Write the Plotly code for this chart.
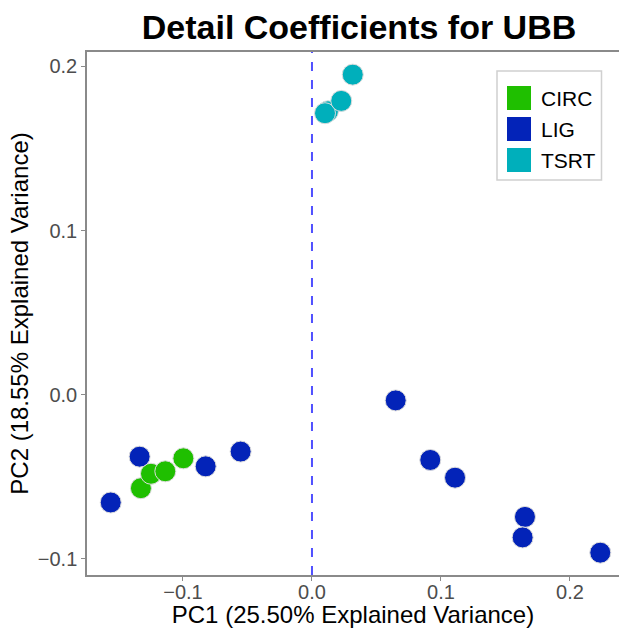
import plotly.graph_objects as go

# ---- data ----
groups = ["CIRC", "LIG", "TSRT"]
colors = {"CIRC": "#1fbf00", "LIG": "#0323b8", "TSRT": "#00afbb"}

circ_x = [-0.1326, -0.1248, -0.1137, -0.0997]
circ_y = [-0.0570, -0.0482, -0.0467, -0.0388]

lig_x = [-0.1560, -0.1336, -0.0824, -0.0553, 0.0649, 0.0917, 0.1109, 0.1651, 0.1633, 0.2235]
lig_y = [-0.0657, -0.0378, -0.0437, -0.0347, -0.0035, -0.0398, -0.0506, -0.0745, -0.0870, -0.0963]

tsrt_x = [0.0124, 0.0101, 0.0227, 0.0316]
tsrt_y = [0.1727, 0.1715, 0.1790, 0.1950]

series = {"CIRC": (circ_x, circ_y), "LIG": (lig_x, lig_y), "TSRT": (tsrt_x, tsrt_y)}

x_ticks = [-0.1, 0.0, 0.1, 0.2]
x_ticklabels = ["\u22120.1", "0.0", "0.1", "0.2"]
y_ticks = [-0.1, 0.0, 0.1, 0.2]
y_ticklabels = ["\u22120.1", "0.0", "0.1", "0.2"]

title = "Detail Coefficients for UBB"
x_title = "PC1 (25.50% Explained Variance)"
y_title = "PC2 (18.55% Explained Variance)"

FONT = "Liberation Sans, Arial, sans-serif"

# ---- layout geometry ----
W, H = 619, 628
ML, MR, MT, MB = 87, 0, 52, 53
PW, PH = W - ML - MR, H - MT - MB

def px_x(p):
    return (p - ML) / PW

def px_y(p):
    return (H - MB - p) / PH

fig = go.Figure()

# dashed vertical reference line at x = 0
fig.add_shape(type="line", xref="x", yref="paper", x0=0, x1=0, y0=0, y1=1,
              line=dict(color="#5050ff", width=2, dash="dash"), layer="below")

for g in groups:
    xs, ys = series[g]
    fig.add_trace(go.Scatter(
        x=xs, y=ys, mode="markers", name=g, showlegend=False,
        marker=dict(size=21, color=colors[g], line=dict(color="#dcdcdc", width=1)),
    ))

# manual legend (large square keys)
fig.add_shape(type="rect", xref="paper", yref="paper",
              x0=px_x(497), x1=px_x(601.5), y0=px_y(180), y1=px_y(71),
              line=dict(color="#d0d0d0", width=1.5), fillcolor="white")
for i, g in enumerate(groups):
    top = 86 + i * 31
    fig.add_shape(type="rect", xref="paper", yref="paper",
                  x0=px_x(507), x1=px_x(531), y0=px_y(top + 24), y1=px_y(top),
                  line=dict(width=0), fillcolor=colors[g])
    fig.add_annotation(xref="paper", yref="paper", x=px_x(539), y=px_y(top + 12),
                       text=g, showarrow=False, xanchor="left", yanchor="middle",
                       font=dict(size=21, color="black", family=FONT))

axis_common = dict(
    showgrid=False, zeroline=False, showline=True, linecolor="#8a8a8a", linewidth=1.5,
    ticks="outside", ticklen=4, tickwidth=1, tickcolor="#8a8a8a",
    tickfont=dict(size=20, color="#4d4d4d", family=FONT),
)

fig.update_layout(
    width=W, height=H,
    margin=dict(l=ML, r=MR, t=MT, b=MB),
    paper_bgcolor="white", plot_bgcolor="white",
    title=dict(text="<b>" + title + "</b>", x=359 / W, xanchor="center",
               y=1 - 27 / H, yanchor="middle",
               font=dict(size=34, color="black", family=FONT)),
    xaxis=dict(range=[-0.1744, 0.238], tickvals=x_ticks, ticktext=x_ticklabels,
               mirror=True, ticklabelstandoff=-6, **axis_common,
               title=dict(text=x_title, standoff=0,
                          font=dict(size=24, color="black", family=FONT))),
    yaxis=dict(range=[-0.1099, 0.2088], tickvals=y_ticks, ticktext=y_ticklabels,
               **axis_common,
               title=dict(text=y_title, standoff=2,
                          font=dict(size=24, color="black", family=FONT))),
    showlegend=False,
)

fig.write_html("out.html")
